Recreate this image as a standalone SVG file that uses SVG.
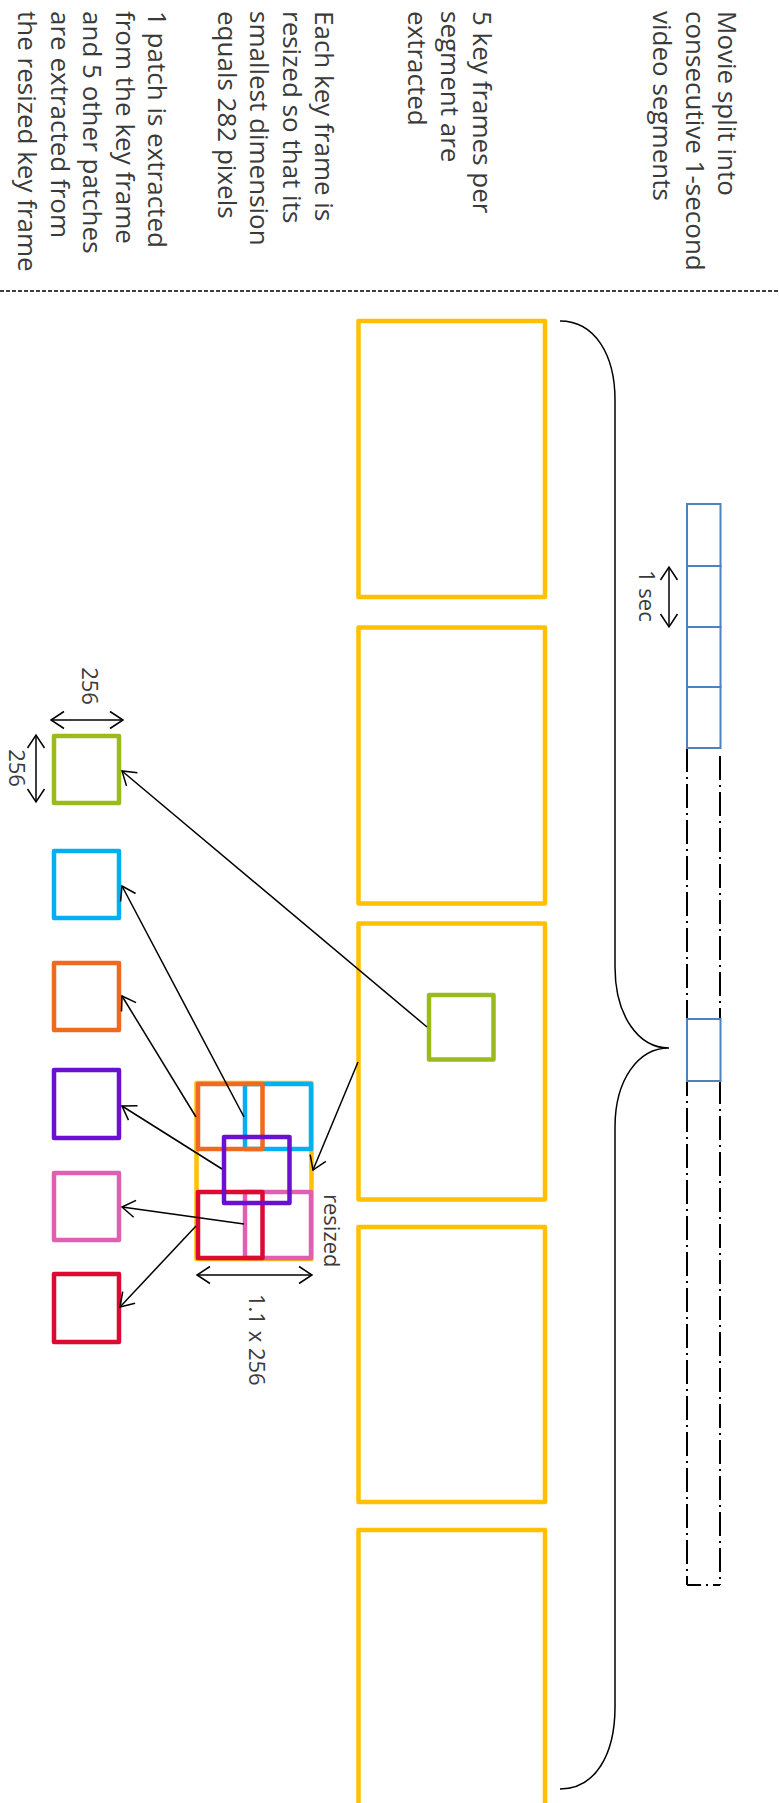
<svg xmlns="http://www.w3.org/2000/svg" width="779" height="1803" viewBox="0 0 779 1803">
<style>
.t{font-family:"Open Sans","Noto Sans",sans-serif;fill:#3a3a3a;}
.big{font-size:26px;}
.lab{font-size:22px;}
.frame{fill:none;stroke:#FFC000;stroke-width:4.5;stroke-linejoin:round;}
.patch{fill:none;stroke-width:4.5;stroke-linejoin:round;}
.seg{fill:#fff;stroke:#4F81BD;stroke-width:2;}
.con{fill:none;stroke:#000;stroke-width:1.5;}
.dd{fill:none;stroke:#000;stroke-width:2;}
</style>
<defs>
<marker id="ah" markerUnits="userSpaceOnUse" viewBox="-15 -11 17 22" markerWidth="17" markerHeight="22" refX="0" refY="0" orient="auto-start-reverse">
<path d="M-13,-8.5 L0,0 L-13,8.5" fill="none" stroke="#000" stroke-width="1.5"/>
</marker>
</defs>
<rect width="779" height="1803" fill="#fff"/>
<g id="texts">
<text class="t big" transform="translate(718,11) rotate(90)"><tspan x="0" y="0">Movie split into</tspan><tspan x="0" dy="32.5">consecutive 1-second</tspan><tspan x="0" dy="32.5">video segments</tspan></text>
<text class="t big" transform="translate(473,11) rotate(90)"><tspan x="0" y="0">5 key frames per</tspan><tspan x="0" dy="32.5">segment are</tspan><tspan x="0" dy="32.5">extracted</tspan></text>
<text class="t big" transform="translate(315,11) rotate(90)"><tspan x="0" y="0">Each key frame is</tspan><tspan x="0" dy="32.5">resized so that its</tspan><tspan x="0" dy="32.5">smallest dimension</tspan><tspan x="0" dy="32.5">equals 282 pixels</tspan></text>
<text class="t big" transform="translate(148,11) rotate(90)"><tspan x="0" y="0">1 patch is extracted</tspan><tspan x="0" dy="32.5">from the key frame</tspan><tspan x="0" dy="32.5">and 5 other patches</tspan><tspan x="0" dy="32.5">are extracted from</tspan><tspan x="0" dy="32.5">the resized key frame</tspan></text>
</g>
<line x1="0" y1="291" x2="779" y2="291" stroke="#000" stroke-width="1.6" stroke-dasharray="4,2"/>
<g id="timeline">
<line x1="687" y1="748" x2="687" y2="1585" class="dd" stroke-dasharray="24,5,2,5"/>
<line x1="720" y1="756" x2="720" y2="1585" class="dd" stroke-dasharray="24,5,2,5"/>
<line x1="687" y1="1585" x2="720" y2="1585" class="dd" stroke-dasharray="14,5,2,5"/>
<rect class="seg" x="687" y="504" width="33.5" height="62"/>
<rect class="seg" x="687" y="566" width="33.5" height="61"/>
<rect class="seg" x="687" y="627" width="33.5" height="60"/>
<rect class="seg" x="687" y="687" width="33.5" height="61"/>
<rect class="seg" x="687" y="1019" width="33.5" height="62"/>
</g>
<g id="brace">
<path class="con" stroke-width="2" d="M560,321 C595,321 615,355 615,400 L615,967 C615,1015 638,1048 669,1048 C638,1048 615,1080 615,1127 L615,1707 C615,1755 595,1789 560,1789"/>
</g>
<g id="frames">
<rect id="frame1" class="frame" x="358.5" y="321" width="186.5" height="276"/>
<rect id="frame2" class="frame" x="358.5" y="627.5" width="186.5" height="276"/>
<rect id="frame3" class="frame" x="358.5" y="923.5" width="186.5" height="276"/>
<rect id="frame4" class="frame" x="358.5" y="1227" width="186.5" height="275"/>
<rect id="frame5" class="frame" x="358.5" y="1530" width="186.5" height="276"/>
<rect id="keypatch" class="patch" stroke="#9BBB1C" x="429" y="995" width="64.5" height="64.5"/>
</g>
<g id="resized">
<rect class="frame" x="196.5" y="1083" width="115" height="176"/>
<rect class="patch" stroke="#00B0F0" x="245" y="1084" width="66" height="65"/>
<rect class="patch" stroke="#ED6A1F" x="198" y="1084" width="64.5" height="65"/>
<rect class="patch" stroke="#E05FB0" x="245" y="1192" width="66" height="66"/>
<rect class="patch" stroke="#DC0A30" x="198" y="1192" width="64.5" height="66"/>
<rect class="patch" stroke="#6B0FD0" x="224" y="1137" width="65.5" height="66"/>
</g>
<g id="patches">
<rect id="p-green" class="patch" stroke="#9BBB1C" x="54" y="736" width="65" height="67"/>
<rect id="p-blue" class="patch" stroke="#00B0F0" x="54" y="851" width="65" height="67"/>
<rect id="p-orange" class="patch" stroke="#ED6A1F" x="54" y="963" width="65" height="67"/>
<rect id="p-purple" class="patch" stroke="#6B0FD0" x="54" y="1070" width="65" height="68"/>
<rect id="p-pink" class="patch" stroke="#E05FB0" x="54" y="1173" width="65" height="67"/>
<rect id="p-red" class="patch" stroke="#DC0A30" x="54" y="1274" width="65" height="68"/>
</g>
<g id="connectors">
<line class="con" x1="427" y1="1027" x2="122" y2="771" marker-end="url(#ah)"/>
<line class="con" x1="358" y1="1062" x2="313" y2="1170" marker-end="url(#ah)"/>
<line class="con" x1="244" y1="1117" x2="122" y2="886" marker-end="url(#ah)"/>
<line class="con" x1="196" y1="1117" x2="122" y2="996" marker-end="url(#ah)"/>
<line class="con" x1="222" y1="1169" x2="122" y2="1106" marker-end="url(#ah)"/>
<line class="con" x1="244" y1="1224" x2="122" y2="1207" marker-end="url(#ah)"/>
<line class="con" x1="196" y1="1226" x2="120" y2="1307" marker-end="url(#ah)"/>
</g>
<g id="dimensions">
<line class="con" x1="669" y1="567" x2="669" y2="627" marker-start="url(#ah)" marker-end="url(#ah)"/>
<line class="con" x1="51" y1="720" x2="123" y2="720" marker-start="url(#ah)" marker-end="url(#ah)"/>
<line class="con" x1="36" y1="735" x2="36" y2="802" marker-start="url(#ah)" marker-end="url(#ah)"/>
<line class="con" x1="197" y1="1275" x2="312" y2="1275" marker-start="url(#ah)" marker-end="url(#ah)"/>
<text class="t lab" transform="translate(639,570) rotate(90)">1 sec</text>
<text class="t lab" transform="translate(82,686) rotate(90)" text-anchor="middle">256</text>
<text class="t lab" transform="translate(9,768) rotate(90)" text-anchor="middle">256</text>
<text class="t lab" transform="translate(324,1194) rotate(90)">resized</text>
<text class="t lab" transform="translate(249,1294) rotate(90)">1.1 x 256</text>
</g>
</svg>
